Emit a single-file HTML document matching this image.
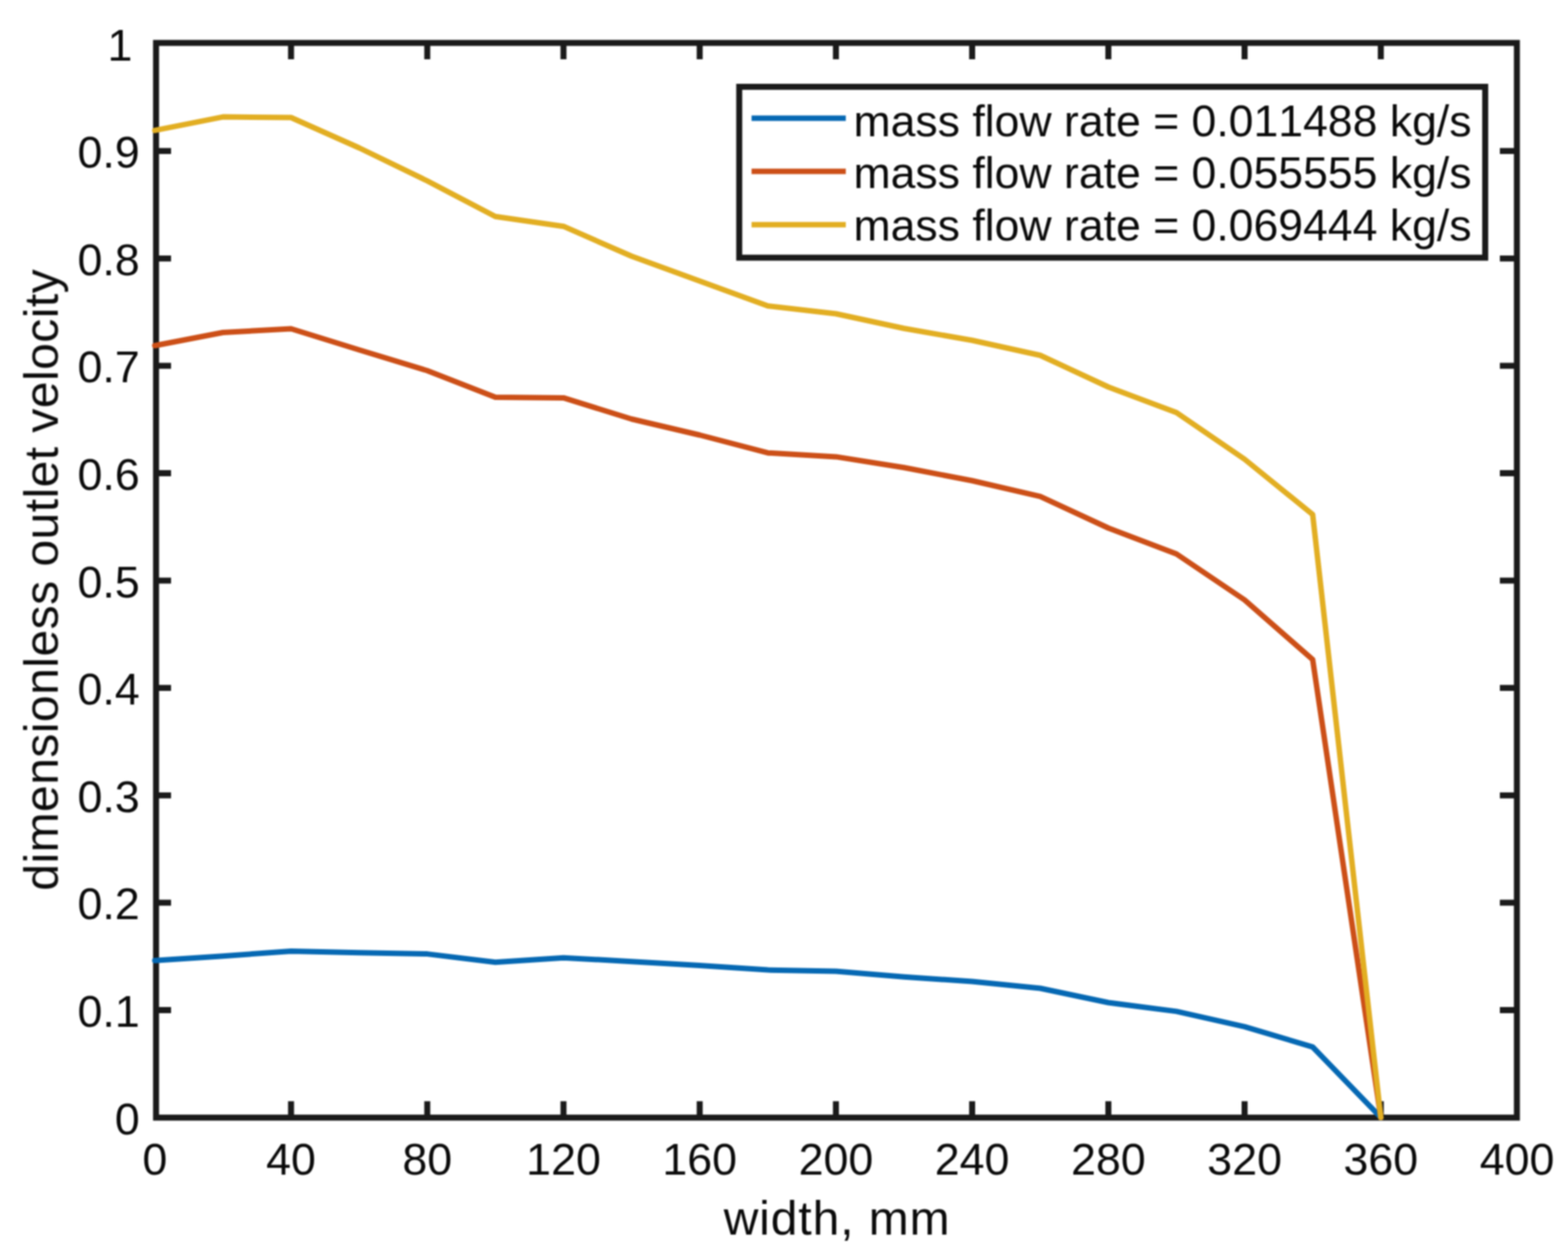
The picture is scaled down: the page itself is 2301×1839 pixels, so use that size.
<!DOCTYPE html><html><head><meta charset="utf-8"><title>dimensionless outlet velocity vs width</title>
<style>html,body{margin:0;padding:0;background:#fff;}svg{display:block;}text{font-family:"Liberation Sans", Arial, Helvetica, sans-serif;fill:#0a0a0a;font-kerning:none;font-feature-settings:"kern" 0;}</style></head><body>
<svg width="2301" height="1839" viewBox="0 0 2301 1839">
<defs><filter id="soft" x="0" y="0" width="2301" height="1839" filterUnits="userSpaceOnUse" color-interpolation-filters="sRGB"><feGaussianBlur stdDeviation="0.9"/></filter></defs>
<rect x="0" y="0" width="2301" height="1839" fill="#ffffff"/>
<g filter="url(#soft)">
<g stroke="#1a1a1a" stroke-width="8.8" fill="none" stroke-linecap="square">
<rect x="229.0" y="63.0" width="1997.0" height="1577.3" stroke-linejoin="miter"/>
<path d="M427.1,63.0V87.0M427.1,1640.3V1616.3M627.0,63.0V87.0M627.0,1640.3V1616.3M826.9,63.0V87.0M826.9,1640.3V1616.3M1026.8,63.0V87.0M1026.8,1640.3V1616.3M1226.7,63.0V87.0M1226.7,1640.3V1616.3M1426.6,63.0V87.0M1426.6,1640.3V1616.3M1626.5,63.0V87.0M1626.5,1640.3V1616.3M1826.4,63.0V87.0M1826.4,1640.3V1616.3M2026.3,63.0V87.0M2026.3,1640.3V1616.3M229.0,1482.5H251.0M2226.0,1482.5H2201.0M229.0,1324.9H251.0M2226.0,1324.9H2201.0M229.0,1167.3H251.0M2226.0,1167.3H2201.0M229.0,1009.7H251.0M2226.0,1009.7H2201.0M229.0,852.1H251.0M2226.0,852.1H2201.0M229.0,694.5H251.0M2226.0,694.5H2201.0M229.0,536.9H251.0M2226.0,536.9H2201.0M229.0,379.3H251.0M2226.0,379.3H2201.0M229.0,221.7H251.0M2226.0,221.7H2201.0" stroke-linecap="butt"/>
</g>
<g fill="none" stroke-width="8.0" stroke-linejoin="round" stroke-linecap="round">
<polyline points="227.2,1409.8 327.1,1403.3 427.1,1395.9 527.0,1398.3 627.0,1400.1 726.9,1412.2 826.9,1405.7 926.8,1411.2 1026.8,1417.1 1126.8,1423.6 1226.7,1425.5 1326.6,1433.8 1426.6,1440.5 1526.5,1450.5 1626.5,1471.5 1726.4,1484.4 1826.4,1506.8 1926.3,1536.6 2026.3,1640.0" stroke="#0568b3"/>
<polyline points="227.2,507.2 327.1,488.0 427.1,482.5 527.0,513.5 627.0,544.0 726.9,583.0 826.9,583.9 926.8,615.0 1026.8,638.5 1126.8,664.7 1226.7,670.4 1326.6,686.2 1426.6,705.5 1526.5,728.6 1626.5,775.0 1726.4,813.0 1826.4,880.5 1926.3,968.0 2026.3,1640.0" stroke="#cc4f17"/>
<polyline points="227.2,191.4 327.1,171.6 427.1,172.5 527.0,217.0 627.0,265.5 726.9,317.8 826.9,332.2 926.8,376.0 1026.8,412.5 1126.8,449.0 1226.7,460.5 1326.6,482.0 1426.6,499.5 1526.5,521.5 1626.5,568.0 1726.4,605.5 1826.4,674.0 1926.3,755.1 2026.3,1640.0" stroke="#e2ae22"/>
</g>
<g font-size="65.7" text-anchor="middle">
<text x="227.2" y="1723.5">0</text>
<text x="427.1" y="1723.5">40</text>
<text x="627.0" y="1723.5">80</text>
<text x="826.9" y="1723.5">120</text>
<text x="1026.8" y="1723.5">160</text>
<text x="1226.7" y="1723.5">200</text>
<text x="1426.6" y="1723.5">240</text>
<text x="1626.5" y="1723.5">280</text>
<text x="1826.4" y="1723.5">320</text>
<text x="2026.3" y="1723.5">360</text>
<text x="2226.2" y="1723.5">400</text>
</g>
<g font-size="65.7" text-anchor="end">
<text x="205.0" y="1664.6">0</text>
<text x="205.0" y="1507.0">0.1</text>
<text x="205.0" y="1349.4">0.2</text>
<text x="205.0" y="1191.8">0.3</text>
<text x="205.0" y="1034.2">0.4</text>
<text x="205.0" y="876.6">0.5</text>
<text x="205.0" y="719.0">0.6</text>
<text x="205.0" y="561.4">0.7</text>
<text x="205.0" y="403.8">0.8</text>
<text x="205.0" y="246.2">0.9</text>
<text x="194.2" y="88.6">1</text>
</g>
<text x="1061.9" y="1811.5" font-size="70.5" textLength="331.6" lengthAdjust="spacing">width, mm</text>
<text transform="translate(84.8,1307.3) rotate(-90)" x="0" y="0" font-size="70.5" textLength="912.1" lengthAdjust="spacing">dimensionless outlet velocity</text>
<rect x="1084.8" y="127.4" width="1094.7" height="250.8" fill="#ffffff" stroke="#1a1a1a" stroke-width="8.8"/>
<line x1="1102.9" y1="173.6" x2="1241.2" y2="173.6" stroke="#0568b3" stroke-width="8.0"/>
<text x="1252.5" y="199.5" font-size="65.4">mass flow rate = 0.011488 kg/s</text>
<line x1="1102.9" y1="251.5" x2="1241.2" y2="251.5" stroke="#cc4f17" stroke-width="8.0"/>
<text x="1252.5" y="276.3" font-size="65.4">mass flow rate = 0.055555 kg/s</text>
<line x1="1102.9" y1="329.8" x2="1241.2" y2="329.8" stroke="#e2ae22" stroke-width="8.0"/>
<text x="1252.5" y="353.4" font-size="65.4">mass flow rate = 0.069444 kg/s</text>
</g>
</svg></body></html>
